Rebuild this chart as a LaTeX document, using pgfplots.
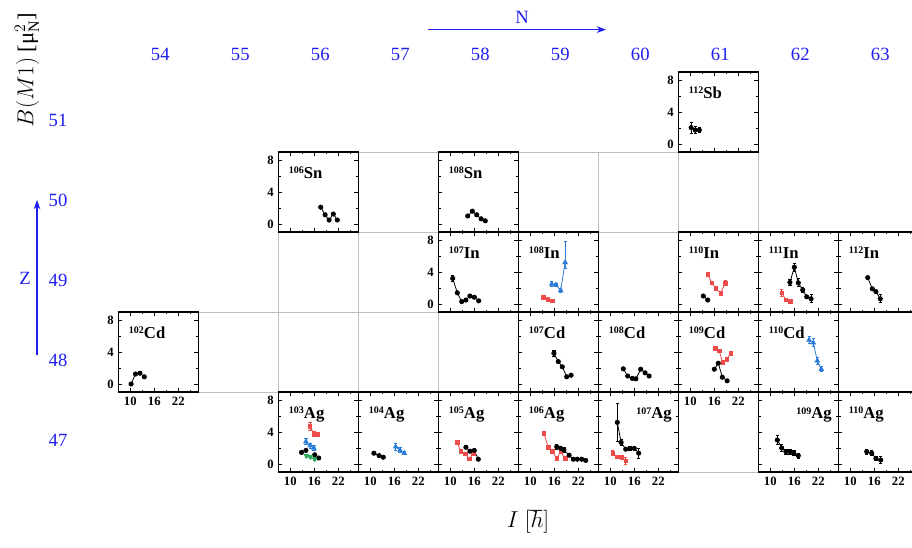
\documentclass[border=0pt]{standalone}
\usepackage{fontspec}
\setmainfont{Liberation Serif}
\usepackage{pgfplots}
\pgfplotsset{compat=1.18}
\usetikzlibrary{arrows.meta}
\definecolor{cred}{HTML}{EE4B4B}
\definecolor{cblue}{HTML}{2B7BD8}
\definecolor{cgreen}{HTML}{2EAA5E}
\definecolor{zn}{HTML}{1E1EF0}

\newcommand\nuc[2]{\raisebox{0.55ex}{\fontsize{7.5}{8}\selectfont #1}#2}
\newcommand\labL[2]{\node[anchor=base west,inner sep=0pt,font=\fontsize{12.5}{12.5}\selectfont\bfseries] at (rel axis cs:0.13,0.675) {\nuc{#1}{#2}};}
\newcommand\labR[2]{\node[anchor=base east,inner sep=0pt,font=\fontsize{12.5}{12.5}\selectfont\bfseries] at (rel axis cs:0.92,0.665) {\nuc{#1}{#2}};}

\pgfplotsset{
  cell/.style 2 args={at={({88.725pt+60pt*(#1-54)},{-114pt-60pt*(51-#2)})}},
  pnl/.style={width=60pt,height=60pt,scale only axis,anchor=south west,
    xmin=7,xmax=27,ymin=-1,ymax=9,
    xtick={10,16,22},minor xtick={13,19,25},ytick={0,4,8},minor ytick={2,6},
    tick align=inside,major tick length=3pt,minor tick length=1.8pt,
    axis line style={line width=0.9pt},
    every tick/.append style={black,line width=0.6pt},
    tick label style={font=\fontsize{9.5}{9.5}\selectfont\bfseries},
    /pgf/number format/assume math mode=true,
    xticklabels={},yticklabels={},clip=false},
  xl/.style={xticklabels={10,16,22}},
  yl/.style={yticklabels={0,4,8}},
  blk/.style={black,line width=0.6pt,mark=*,mark size=1.6pt},
  rd/.style={cred,line width=0.6pt,mark=square*,mark size=1.35pt},
  bl/.style={cblue,line width=0.6pt,mark=triangle*,mark size=1.9pt},
  gr/.style={cgreen,line width=0.6pt,mark=triangle*,mark size=1.9pt,mark options={rotate=180}},
  eb/.style={error bars/.cd,y dir=both,y explicit,error bar style={line width=0.5pt,#1},
    error mark options={line width=0.5pt,mark size=1.2pt,rotate=90,#1}},
}

\begin{document}
\begin{tikzpicture}
\path[use as bounding box] (0,0) rectangle (684pt,-410.25pt);
\begin{scope}[x=0.75pt,y=-0.75pt]
% grey cell grid
\begin{scope}[black!25,line width=0.6pt]
\draw (278.3,152)--(758.3,152);
\draw (278.3,232)--(912,232);
\draw (118.3,312)--(912,312);
\draw (118.3,392)--(912,392);
\draw (278.3,472)--(912,472);
\draw (198.3,312)--(198.3,392);
\foreach \xx in {278.3,358.3,438.3,518.3,598.3,678.3,758.3} \draw (\xx,152)--(\xx,472);
\draw (838.3,232)--(838.3,472);
\end{scope}
% N and Z annotations
\node[zn,font=\fontsize{14}{14}\selectfont] at (522,17) {N};
\draw[zn,line width=0.9pt,-{Stealth[length=7pt,width=5pt]}] (428,29.6)--(606,29.6);
\foreach \n [count=\k from 0] in {54,...,63}
  \node[zn,font=\fontsize{14}{14}\selectfont] at (160.3+80*\k,54) {\n};
\foreach \z [count=\k from 0] in {51,50,49,48,47}
  \node[zn,font=\fontsize{14}{14}\selectfont] at (58,120+80*\k) {\z};
\draw[zn,line width=0.9pt,-{Stealth[length=7pt,width=5pt]}] (37,355)--(37,200);
\node[zn,font=\fontsize{14}{14}\selectfont] at (25,278) {Z};
\node[rotate=90,font=\fontsize{17}{17}\selectfont] at (27,70) {$B(M1)$ [μ$_{\mathrm{N}}^{2}$]};
\node[font=\fontsize{17}{17}\selectfont] at (528,522) {$I\;[\hbar]$};
\end{scope}

% ---- Sb ----
\begin{axis}[pnl,cell={61}{51},yl]
\addplot[blk,eb=black] coordinates {(10.2,2.05) +- (0,0.7) (11.2,1.75) +- (0,0.4) (12.25,1.75) +- (0,0.3)};
\labL{112}{Sb}
\end{axis}
% ---- Sn ----
\begin{axis}[pnl,cell={56}{50},yl]
\addplot[blk] coordinates {(17.6,2.1)(18.7,1.15)(19.7,0.5)(20.75,1.25)(21.75,0.5)};
\labL{106}{Sn}
\end{axis}
\begin{axis}[pnl,cell={58}{50}]
\addplot[blk] coordinates {(14.35,1.0)(15.5,1.6)(16.6,1.15)(17.7,0.65)(18.75,0.4)};
\labL{108}{Sn}
\end{axis}
% ---- In ----
\begin{axis}[pnl,cell={58}{49},yl]
\addplot[blk,eb=black] coordinates {(10.6,3.2) +- (0,0.4) (11.75,1.4) (12.85,0.3) (13.9,0.5) (14.9,1.0) (16.0,0.85) (17.1,0.4)};
\labL{107}{In}
\end{axis}
\begin{axis}[pnl,cell={59}{49}]
\addplot[rd] coordinates {(13.25,0.85)(14.35,0.6)(15.5,0.4)};
\addplot[bl,eb=cblue] coordinates {(15.35,2.5) +- (0,0.3) (16.4,2.4) +- (0,0.2) (17.6,1.7) +- (0,0.3) (18.7,5.2) += (0,2.6) -= (0,0.8)};
\labL{108}{In}
\end{axis}
\begin{axis}[pnl,cell={61}{49}]
\addplot[blk] coordinates {(13.25,1.0)(14.35,0.5)};
\addplot[rd,eb=cred] coordinates {(14.35,3.7) (15.35,2.65) (16.4,1.95) (17.6,1.35) (18.7,2.6) +- (0,0.3)};
\labL{110}{In}
\end{axis}
\begin{axis}[pnl,cell={62}{49}]
\addplot[rd,eb=cred] coordinates {(12.85,1.4) +- (0,0.4) (13.9,0.5) +- (0,0.1) (15.0,0.3) +- (0,0.1)};
\addplot[blk,eb=black] coordinates {(14.9,2.7) +- (0,0.4) (16.0,4.6) +- (0,0.5) (17.0,2.65) +- (0,0.5) (18.1,1.75) +- (0,0.3) (19.1,0.9) +- (0,0.2) (20.2,0.65) +- (0,0.5)};
\labL{111}{In}
\end{axis}
\begin{axis}[pnl,cell={63}{49}]
\addplot[blk,eb=black] coordinates {(14.35,3.3) (15.5,1.9) (16.4,1.55) (17.5,0.65) +- (0,0.5)};
\labL{112}{In}
\end{axis}
% ---- Cd ----
\begin{axis}[pnl,cell={54}{48},xl,yl]
\addplot[blk] coordinates {(10.2,0)(11.3,1.25)(12.4,1.35)(13.5,0.9)};
\labL{102}{Cd}
\end{axis}
\begin{axis}[pnl,cell={59}{48}]
\addplot[blk,eb=black] coordinates {(15.9,3.85) +- (0,0.4) (17.0,2.8) (18.0,2.15) (19.1,0.9) (20.2,1.1)};
\labL{107}{Cd}
\end{axis}
\begin{axis}[pnl,cell={60}{48}]
\addplot[blk] coordinates {(13.25,1.9)(14.35,1.0)(15.5,0.7)(16.4,0.65)(17.6,1.85)(18.7,1.4)(19.7,1.0)};
\labL{108}{Cd}
\end{axis}
\begin{axis}[pnl,cell={61}{48},xl]
\addplot[blk] coordinates {(16.0,1.85)(17.0,2.6)(18.0,0.85)(19.2,0.4)};
\addplot[rd] coordinates {(16.2,4.45)(17.2,4.15)(18.1,2.7)(19.1,3.1)(20.1,3.85)};
\labL{109}{Cd}
\end{axis}
\begin{axis}[pnl,cell={62}{48}]
\addplot[bl,eb=cblue] coordinates {(19.7,5.5) +- (0,0.4) (20.75,5.15) +- (0,0.5) (21.75,2.9) +- (0,0.4) (22.75,1.85) +- (0,0.3)};
\labL{110}{Cd}
\end{axis}
% ---- Ag ----
\begin{axis}[pnl,cell={56}{47},xl,yl]
\addplot[rd,eb=cred] coordinates {(14.9,4.7) +- (0,0.5) (15.9,3.8) +- (0,0.3) (16.9,3.7) +- (0,0.3)};
\addplot[bl,eb=cblue] coordinates {(13.9,2.8) +- (0,0.4) (15.0,2.3) +- (0,0.3) (15.9,2.0) +- (0,0.3)};
\addplot[blk,only marks] coordinates {(12.8,1.45)(13.9,1.7)(16.1,1.15)(17.1,0.75)};
\addplot[gr,eb=cgreen] coordinates {(14.0,1.05) +- (0,0.2) (15.0,0.9) +- (0,0.2) (16.1,0.6) +- (0,0.2)};
\labL{103}{Ag}
\end{axis}
\begin{axis}[pnl,cell={57}{47},xl]
\addplot[blk] coordinates {(10.9,1.35)(12.2,1.05)(13.25,0.85)};
\addplot[bl,eb=cblue] coordinates {(16.35,2.15) +- (0,0.4) (17.4,1.75) +- (0,0.3) (18.5,1.35) +- (0,0.2)};
\labL{104}{Ag}
\end{axis}
\begin{axis}[pnl,cell={58}{47},xl]
\addplot[rd] coordinates {(11.75,2.7)(12.6,1.55)(13.7,1.25)(14.75,0.65)(15.75,1.35)};
\addplot[blk] coordinates {(13.9,2.1)(14.9,1.6)(16.0,1.7)(17.0,0.6)};
\labL{105}{Ag}
\end{axis}
\begin{axis}[pnl,cell={59}{47},xl]
\addplot[rd] coordinates {(13.4,3.8)(14.5,2.1)(15.5,1.55)(16.6,0.7)(17.6,1.55)(18.7,0.7)};
\addplot[blk,eb=black] coordinates {(16.6,2.15) +- (0,0.3) (17.6,1.95) +- (0,0.3) (18.4,1.75) +- (0,0.3) (19.7,1.1) (20.75,0.6) (21.75,0.6) (22.85,0.6) (23.85,0.45)};
\labL{106}{Ag}
\end{axis}
\begin{axis}[pnl,cell={60}{47},xl]
\addplot[blk,eb=black] coordinates {(11.75,5.2) +- (0,2.4) (12.7,2.7) +- (0,0.4) (13.85,1.85) +- (0,0.2) (14.9,1.95) +- (0,0.3) (16.0,1.95) +- (0,0.3) (17.1,1.35) +- (0,0.6)};
\addplot[rd,eb=cred] coordinates {(10.6,1.35) +- (0,0.3) (11.75,0.9) +- (0,0.15) (12.85,0.85) +- (0,0.15) (13.85,0.4) +- (0,0.4)};
\labR{107}{Ag}
\end{axis}
\begin{axis}[pnl,cell={62}{47},xl]
\addplot[blk,eb=black] coordinates {(11.75,3.0) +- (0,0.6) (12.85,2.0) +- (0,0.4) (13.9,1.55) +- (0,0.3) (14.9,1.55) +- (0,0.3) (15.9,1.35) +- (0,0.3) (17.0,1.05) +- (0,0.3)};
\labR{109}{Ag}
\end{axis}
\begin{axis}[pnl,cell={63}{47},xl]
\addplot[blk,eb=black] coordinates {(14.1,1.55) +- (0,0.3) (15.35,1.35) +- (0,0.3) (16.4,0.7) +- (0,0.2) (17.6,0.5) +- (0,0.4)};
\labL{110}{Ag}
\end{axis}
\end{tikzpicture}
\end{document}
